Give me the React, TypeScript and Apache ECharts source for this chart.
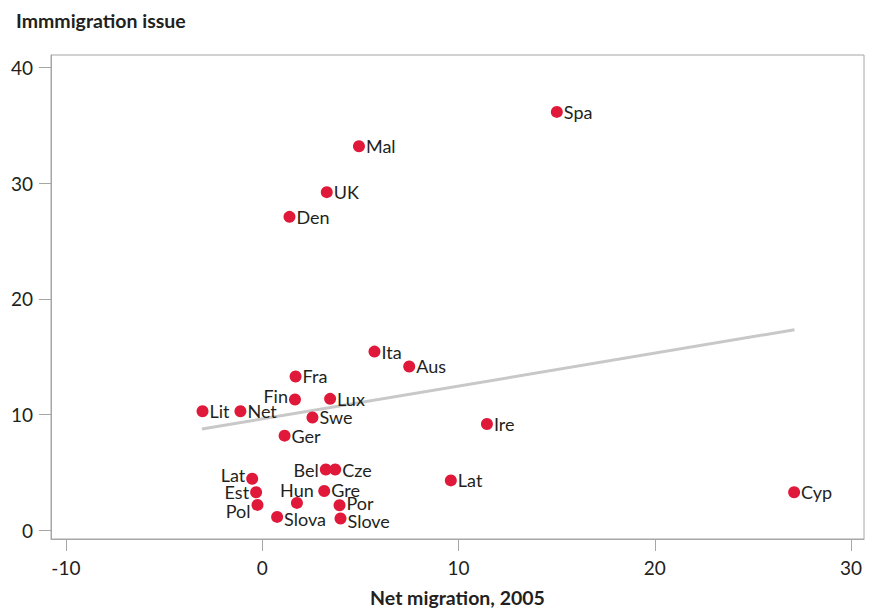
import React, { useEffect, useRef } from "react";
import * as echarts from "echarts";

const countries = ["Spa", "Mal", "UK", "Den", "Ita", "Aus", "Fra", "Fin", "Lux", "Lit", "Net", "Swe", "Ger", "Ire", "Bel", "Cze", "Lat", "Lat", "Est", "Pol", "Hun", "Gre", "Por", "Slova", "Slove", "Cyp"];
const netMigration = [15.01, 4.93, 3.29, 1.39, 5.72, 7.49, 1.7, 1.67, 3.46, -3.04, -1.11, 2.56, 1.14, 11.45, 3.24, 3.72, -0.51, 9.61, -0.31, -0.24, 1.77, 3.16, 3.94, 0.76, 3.99, 27.1];
const immigrationIssue = [36.17, 33.2, 29.23, 27.09, 15.44, 14.15, 13.29, 11.29, 11.35, 10.28, 10.28, 9.74, 8.17, 9.17, 5.24, 5.24, 4.44, 4.3, 3.27, 2.18, 2.35, 3.38, 2.15, 1.14, 1.0, 3.27];
const labelSide = ["right", "right", "right", "right", "right", "right", "right", "left", "right", "right", "right", "right", "right", "right", "left", "right", "left", "right", "left", "left", "top", "right", "right", "right", "right", "right"];
const labelShiftY = [0, 0, 0, 0, 0, 0, 0, -4, 0, 0, 0, 0, 0, 0, 0, 0, -4, 0, 0, 6, 2, -1, -2, 2, 2, 0];
const trendX = [-3.07, 27.12];
const trendY = [8.74, 17.33];
const xTicks = [-10, 0, 10, 20, 30];
const yTicks = [0, 10, 20, 30, 40];

const FONT = "Lato";
const TEXT = "#231f20";
const AXIS = "#a6a6a6";
const DOT = 12;

function labelPlacement(side: string, dy: number) {
  if (side === "left") return { position: [-1, DOT / 2 + dy], align: "right", verticalAlign: "middle" };
  if (side === "top") return { position: [DOT / 2, -1 + dy], align: "center", verticalAlign: "bottom" };
  return { position: [DOT + 1, DOT / 2 + dy], align: "left", verticalAlign: "middle" };
}

export default function App() {
  const ref = useRef<HTMLDivElement>(null);
  useEffect(() => {
    if (!ref.current) return;
    const chart = echarts.init(ref.current, null, { renderer: "svg" });
    const points = countries.map((c, i) => ({
      name: c,
      value: [netMigration[i], immigrationIssue[i]],
      label: labelPlacement(labelSide[i], labelShiftY[i]),
    }));
    chart.setOption({
      animation: false,
      textStyle: { fontFamily: FONT },
      title: {
        text: "Immmigration issue",
        left: 11,
        top: 5,
        textStyle: { fontFamily: FONT, fontSize: 19.5, fontWeight: "bold", color: TEXT },
      },
      grid: {
        left: 51,
        right: 10,
        top: 55,
        bottom: 68,
        show: true,
        borderColor: AXIS,
        borderWidth: 1,
        backgroundColor: "transparent",
      },
      xAxis: {
        type: "value",
        min: -10.76,
        max: 30.66,
        interval: 10,
        name: "Net migration, 2005",
        nameLocation: "middle",
        nameGap: 48,
        nameTextStyle: { fontFamily: FONT, fontSize: 19.5, fontWeight: "bold", color: TEXT },
        axisLine: { show: true, onZero: false, lineStyle: { color: AXIS } },
        axisTick: { show: true, length: 12, lineStyle: { color: AXIS }, customValues: xTicks },
        axisLabel: {
          fontFamily: FONT,
          fontSize: 19,
          color: TEXT,
          margin: 19,
          customValues: xTicks,
          showMinLabel: true,
          showMaxLabel: true,
        },
        splitLine: { show: false },
      },
      yAxis: {
        type: "value",
        min: -0.77,
        max: 41.09,
        axisLine: { show: true, onZero: false, lineStyle: { color: AXIS } },
        axisTick: { show: true, length: 12, lineStyle: { color: AXIS }, customValues: yTicks },
        axisLabel: {
          fontFamily: FONT,
          fontSize: 19,
          color: TEXT,
          margin: 18,
          customValues: yTicks,
        },
        splitLine: { show: false },
      },
      series: [
        {
          type: "line",
          data: trendX.map((x, i) => [x, trendY[i]]),
          showSymbol: false,
          symbol: "none",
          lineStyle: { color: "#c8c8c8", width: 3 },
          silent: true,
          z: 1,
        },
        {
          type: "scatter",
          data: points,
          symbol: "circle",
          symbolSize: DOT,
          itemStyle: { color: "#e0193a", opacity: 1 },
          label: {
            show: true,
            formatter: "{b}",
            fontFamily: FONT,
            fontSize: 18,
            lineHeight: 15,
            color: TEXT,
          },
          z: 2,
        },
      ],
    });
    return () => chart.dispose();
  }, []);
  return <div ref={ref} style={{ position: "absolute", left: 0, top: 0, width: 874, height: 612 }} />;
}
